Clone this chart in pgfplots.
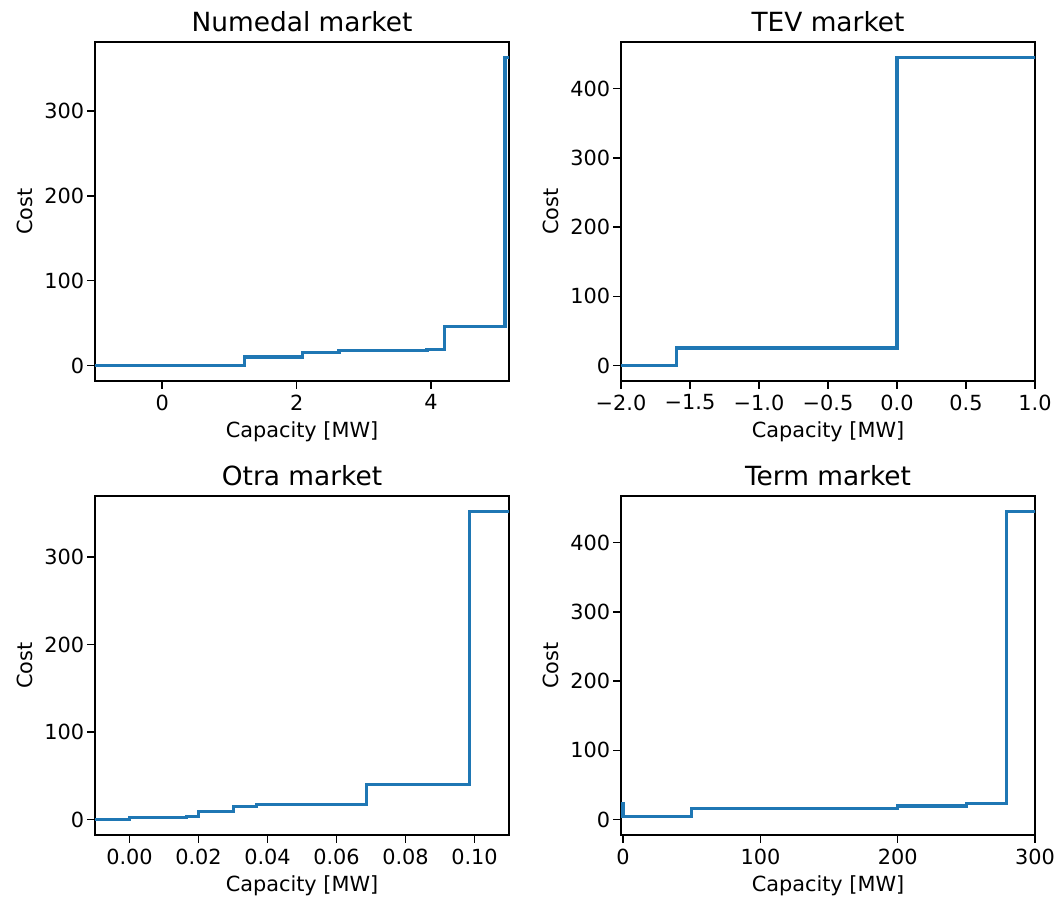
\documentclass[border=0pt]{standalone}
\usepackage{fontspec}
\setmainfont{DejaVu Sans}
\usepackage{pgfplots}
\pgfplotsset{compat=1.18}
\definecolor{mplblue}{HTML}{1F77B4}
\pgfplotsset{
  mpl/.style={
    scale only axis,
    width=298.1pt, height=244.1pt,
    anchor=north west,
    axis line style={line width=1.1pt},
    tick align=outside,
    xtick pos=bottom, ytick pos=left,
    major tick length=5.6pt,
    every tick/.style={black, line width=1.1pt},
    /pgf/number format/assume math mode=true,
    tick label style={font=\fontsize{15}{18}\selectfont},
    xticklabel style={inner sep=2pt, yshift=-2pt},
    yticklabel style={inner sep=2pt},
    label style={font=\fontsize{15}{18}\selectfont},
    xlabel={Capacity [MW]},
    ylabel={Cost},
    xlabel style={inner sep=0pt, yshift=-6pt},
    ylabel style={inner sep=0pt, yshift=6pt},
    title style={font=\fontsize{19}{22}\selectfont, at={(0.5,1)}, anchor=south, yshift=-2.5pt},
    clip=true,
  },
  stepline/.style={mplblue, line width=2.3pt, const plot mark left, mark=none},
}
\begin{document}
\begin{tikzpicture}
\useasboundingbox (0,0) rectangle (761.04pt,-646.56pt);
% Numedal
\begin{axis}[mpl, at={(68.4pt,-30.24pt)}, title={Numedal market},
  xmin=-1, xmax=5.16, ymin=-18.2, ymax=381.3,
  xtick={0,2,4}, ytick={0,100,200,300}]
\addplot[stepline] coordinates {(-1,0)(1.22,10)(2.09,15)(2.63,17.5)(3.94,19)(4.2,46)(5.1,363)(5.17,363)};
\end{axis}
% TEV
\begin{axis}[mpl, at={(447.12pt,-30.24pt)}, title={TEV market},
  xmin=-2, xmax=1, ymin=-22.25, ymax=467.25,
  xtick={-2,-1.5,-1,-0.5,0,0.5,1},
  xticklabels={−2.0,−1.5,−1.0,−0.5,0.0,0.5,1.0},
  ytick={0,100,200,300,400}]
\addplot[stepline] coordinates {(-2,0)(-1.6,25.5)(0,445)(1.01,445)};
\end{axis}
% Otra
\begin{axis}[mpl, at={(68.4pt,-357.12pt)}, title={Otra market},
  xmin=-0.01, xmax=0.11, ymin=-17.6, ymax=369.6,
  xtick={0,0.02,0.04,0.06,0.08,0.1},
  xticklabels={0.00,0.02,0.04,0.06,0.08,0.10},
  ytick={0,100,200,300}]
\addplot[stepline] coordinates {(-0.01,0)(0,2)(0.0166,3.5)(0.0201,9.5)(0.0302,15.3)(0.0368,17.2)(0.0687,40)(0.0985,352)(0.111,352)};
\end{axis}
% Term
\begin{axis}[mpl, at={(447.12pt,-357.12pt)}, title={Term market},
  xmin=-1.5, xmax=300, ymin=-22.25, ymax=467.25,
  xtick={0,100,200,300}, ytick={0,100,200,300,400}]
\addplot[stepline] coordinates {(0,25)(0,5)(50,15.5)(200,19.8)(250,23.6)(279,445)(301,445)};
\end{axis}
\end{tikzpicture}
\end{document}
